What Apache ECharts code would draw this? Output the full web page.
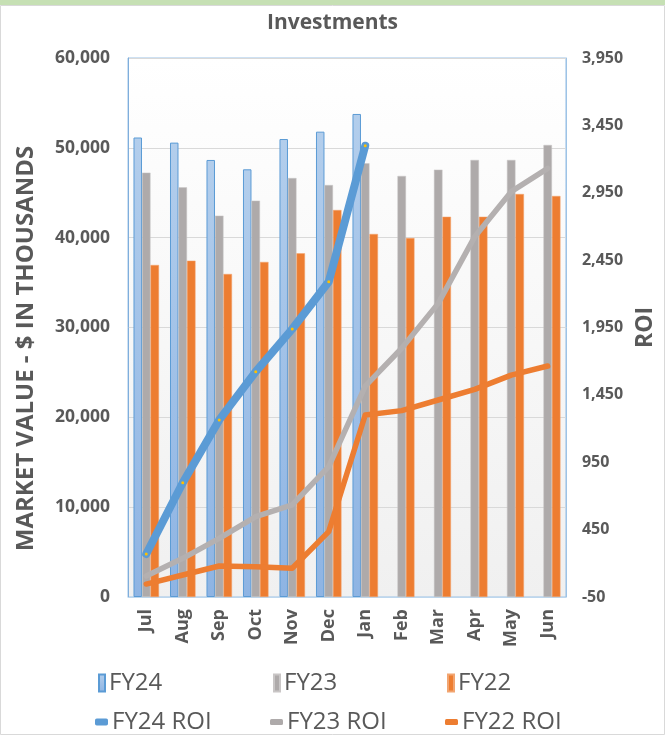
<!DOCTYPE html>
<html>
<head>
<meta charset="utf-8">
<title>Investments</title>
<script src="https://cdn.jsdelivr.net/npm/echarts@6/dist/echarts.min.js"></script>
<style>
  html, body { margin: 0; padding: 0; background: #ffffff; }
  #chart { width: 665px; height: 735px; }
</style>
</head>
<body>
<div id="chart"></div>
<script>
// Fiscal-year months
const months = ['Jul', 'Aug', 'Sep', 'Oct', 'Nov', 'Dec', 'Jan', 'Feb', 'Mar', 'Apr', 'May', 'Jun'];

// Market value, $ in thousands
const fy24 = [51150, 50580, 48650, 47610, 50980, 51800, 53770, null, null, null, null, null];
const fy23 = [47240, 45600, 42450, 44120, 46640, 45860, 48280, 46870, 47570, 48650, 48650, 50320];
const fy22 = [36960, 37440, 35960, 37300, 38260, 43080, 40410, 39960, 42330, 42330, 44860, 44640];

// Return on investment
const fy24Roi = [269, 798, 1264, 1622, 1939, 2290, 3299, null, null, null, null, null];
const fy23Roi = [106, 237, 385, 546, 633, 917, 1515, 1796, 2129, 2624, 2958, 3131];
const fy22Roi = [46, 113, 180, 175, 163, 435, 1301, 1333, 1412, 1491, 1597, 1664];

// Axis ranges
const valueAxisMin = 0, valueAxisMax = 60000, valueAxisStep = 10000;
const roiAxisMin = -50, roiAxisMax = 3950, roiAxisStep = 500;

const FONT = '"Open Sans", "DejaVu Sans", sans-serif';
const TEXT = '#595959';
const BLUE = '#5B9BD5';
const GRAY = '#AEAAAA';
const ORANGE = '#ED7D31';

function withCommas(v) {
  const s = String(Math.abs(v)).replace(/\B(?=(\d{3})+(?!\d))/g, ',');
  return (v < 0 ? '-' : '') + s;
}

const chart = echarts.init(document.getElementById('chart'), null, { renderer: 'canvas' });

const legendText = { fontFamily: FONT, fontSize: 24, color: TEXT, padding: [0, 0, 0, -1] };
function legendAt(name, left, top, opts) {
  return Object.assign({
    data: [name], left: left, top: top, orient: 'horizontal', padding: 0,
    itemGap: 0, textStyle: legendText, selectedMode: false
  }, opts);
}

const option = {
  backgroundColor: '#ffffff',
  animation: false,
  title: {
    text: 'Investments', left: 'center', top: 8,
    textStyle: { fontFamily: FONT, fontSize: 21, fontWeight: 'bold', color: TEXT }
  },
  graphic: [
    { type: 'rect', silent: true, z: 100, shape: { x: 0, y: 0, width: 665, height: 5 }, style: { fill: '#C6E0B4' } },
    { type: 'rect', silent: true, z: 100, shape: { x: 0.5, y: 5.5, width: 664, height: 729 }, style: { fill: null, stroke: '#D9D9D9', lineWidth: 1 } }
  ],
  grid: {
    left: 128, right: 85, top: 58, bottom: 138,
    show: true, borderColor: '#9DC3E6', borderWidth: 1,
    backgroundColor: new echarts.graphic.LinearGradient(0, 0, 0, 1, [
      { offset: 0, color: '#FFFFFF' },
      { offset: 1, color: '#F0F0F0' }
    ])
  },
  xAxis: {
    type: 'category', data: months,
    axisLine: { show: true, lineStyle: { color: '#BDD7EE' } },
    axisTick: { show: false },
    axisLabel: { rotate: 90, margin: 12, fontFamily: FONT, fontSize: 18, fontWeight: 'bold', color: TEXT }
  },
  yAxis: [
    {
      type: 'value', min: valueAxisMin, max: valueAxisMax, interval: valueAxisStep,
      name: 'MARKET VALUE - $ IN THOUSANDS', nameLocation: 'middle', nameGap: 90,
      nameTextStyle: { fontFamily: FONT, fontSize: 24, fontWeight: 'bold', color: TEXT, padding: [0, 42, 0, 0] },
      axisLine: { show: true, lineStyle: { color: '#7FAEDC' } },
      axisTick: { show: false },
      splitLine: { show: true, lineStyle: { color: '#D9D9D9' } },
      axisLabel: { formatter: withCommas, margin: 18, fontFamily: FONT, fontSize: 17.5, fontWeight: 'bold', color: TEXT }
    },
    {
      type: 'value', position: 'right', min: roiAxisMin, max: roiAxisMax, interval: roiAxisStep,
      name: 'ROI', nameLocation: 'middle', nameGap: 52,
      nameTextStyle: { fontFamily: FONT, fontSize: 23, fontWeight: 'bold', color: TEXT },
      axisLine: { show: true, lineStyle: { color: '#9DC3E6' } },
      axisTick: { show: false },
      splitLine: { show: false },
      axisLabel: { formatter: withCommas, margin: 16, fontFamily: FONT, fontSize: 16, fontWeight: 'bold', color: TEXT }
    }
  ],
  legend: [
    legendAt('FY24', 98, 671, { icon: 'rect', itemWidth: 6, itemHeight: 17 }),
    legendAt('FY23', 273, 671, { icon: 'rect', itemWidth: 6, itemHeight: 17 }),
    legendAt('FY22', 447, 671, { icon: 'rect', itemWidth: 6, itemHeight: 17 }),
    legendAt({ name: 'FY24 ROI', itemStyle: { color: BLUE } }, 95, 710, { icon: 'roundRect', itemWidth: 13, itemHeight: 7 }),
    legendAt({ name: 'FY23 ROI', itemStyle: { color: GRAY } }, 270, 710, { icon: 'roundRect', itemWidth: 13, itemHeight: 6 }),
    legendAt({ name: 'FY22 ROI', itemStyle: { color: ORANGE } }, 445, 710, { icon: 'roundRect', itemWidth: 13, itemHeight: 6 })
  ],
  series: [
    {
      name: 'FY24', type: 'bar', yAxisIndex: 0, data: fy24, barWidth: 8.5, barGap: '0%',
      itemStyle: {
        color: new echarts.graphic.LinearGradient(0, 0, 0, 1, [
          { offset: 0, color: '#B3CEEC' },
          { offset: 1, color: '#8EB4E3' }
        ]),
        borderColor: BLUE, borderWidth: 1
      }
    },
    {
      name: 'FY23', type: 'bar', yAxisIndex: 0, data: fy23, barWidth: 8.5, barGap: '0%',
      itemStyle: { color: GRAY, borderColor: '#C9C6C6', borderWidth: 0.5 }
    },
    {
      name: 'FY22', type: 'bar', yAxisIndex: 0, data: fy22, barWidth: 8.5, barGap: '0%',
      itemStyle: { color: ORANGE, borderColor: '#F2A571', borderWidth: 0.5 }
    },
    {
      name: 'FY24 ROI', type: 'line', yAxisIndex: 1, data: fy24Roi, z: 5,
      symbol: 'circle', symbolSize: 3, showSymbol: true,
      itemStyle: { color: '#FFC000', borderWidth: 0 },
      lineStyle: { color: BLUE, width: 8, cap: 'round', join: 'round' }
    },
    {
      name: 'FY23 ROI', type: 'line', yAxisIndex: 1, data: fy23Roi, z: 4,
      showSymbol: false, symbol: 'none',
      itemStyle: { color: GRAY },
      lineStyle: { color: '#B4B0B0', width: 5.5, cap: 'round', join: 'round' }
    },
    {
      name: 'FY22 ROI', type: 'line', yAxisIndex: 1, data: fy22Roi, z: 4,
      showSymbol: false, symbol: 'none',
      itemStyle: { color: ORANGE },
      lineStyle: { color: ORANGE, width: 5.5, cap: 'round', join: 'round' }
    }
  ]
};

chart.setOption(option);
</script>
</body>
</html>
